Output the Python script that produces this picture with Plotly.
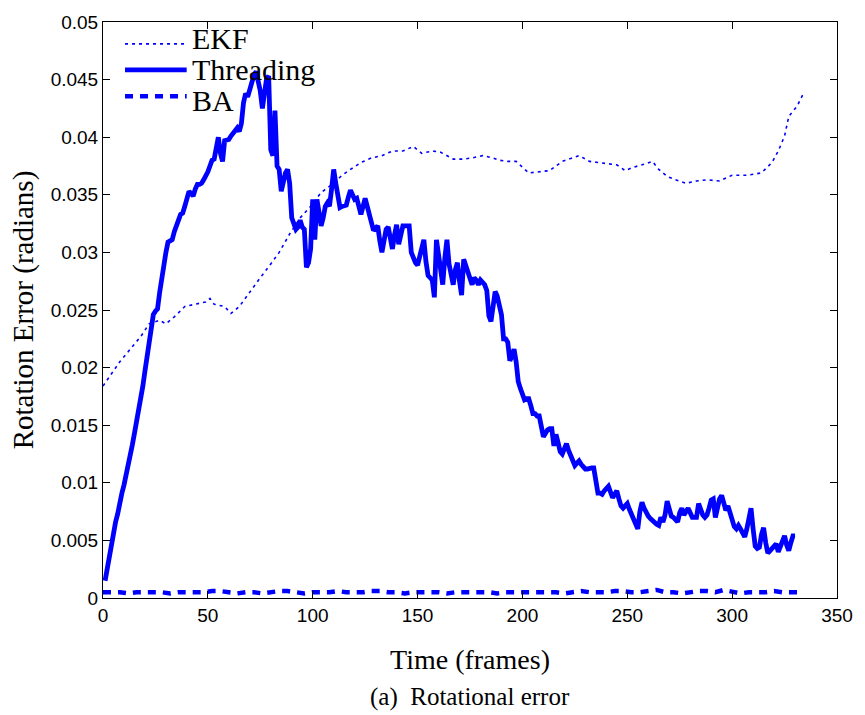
import plotly.graph_objects as go

# ---------------- data ----------------
series_names = ["EKF", "Threading", "BA"]

ekf_frames = [0, 3, 8, 13, 18, 22, 27, 30, 34, 39, 44, 49, 51, 53, 58, 61, 65, 70, 75, 80,
              84, 89, 94, 99, 104, 110, 114, 118, 123, 128, 133, 138, 143, 148, 152, 157, 161,
              167, 172, 176, 181, 186, 189, 193, 197, 203, 208, 213, 219, 224, 227, 232, 237,
              241, 245, 249, 253, 257, 262, 265, 269, 273, 278, 283, 288, 294, 300, 307, 314,
              319, 322, 325, 327, 331, 334]
ekf_values = [0.0184, 0.0192, 0.0205, 0.0216, 0.0227, 0.0238, 0.0241, 0.0238, 0.0244, 0.0253,
              0.0255, 0.0257, 0.0260, 0.0255, 0.0253, 0.0247, 0.0253, 0.0266, 0.0278, 0.0290,
              0.0300, 0.0316, 0.0330, 0.0340, 0.0352, 0.0360, 0.0367, 0.0372, 0.0378, 0.0382,
              0.0384, 0.0388, 0.0388, 0.0392, 0.0386, 0.0388, 0.0387, 0.0381, 0.0381, 0.0382,
              0.0384, 0.0382, 0.0380, 0.0379, 0.0379, 0.0369, 0.0370, 0.0371, 0.0379, 0.0382,
              0.0384, 0.0379, 0.0378, 0.0377, 0.0376, 0.0371, 0.0374, 0.0376, 0.0379, 0.0372,
              0.0366, 0.0363, 0.0360, 0.0362, 0.0363, 0.0362, 0.0367, 0.0367, 0.0369, 0.0378,
              0.0388, 0.0401, 0.0418, 0.0427, 0.0438]

thr_frames = list(range(1, 331))
thr_values = [
    0.0015, 0.0026, 0.0038, 0.0048, 0.0057, 0.0066, 0.0073, 0.0084, 0.0091, 0.0098,
    0.0106, 0.0113, 0.0121, 0.0133, 0.0143, 0.0152, 0.0163, 0.0174, 0.0184, 0.0197,
    0.0208, 0.0222, 0.0235, 0.0246, 0.0249, 0.0251, 0.0265, 0.0278, 0.0287, 0.0300,
    0.0309, 0.0310, 0.0311, 0.0318, 0.0322, 0.0328, 0.0333, 0.0334, 0.0340, 0.0346,
    0.0353, 0.0351, 0.0349, 0.0355, 0.0359, 0.0359, 0.0360, 0.0363, 0.0366, 0.0370,
    0.0375, 0.0380, 0.0381, 0.0390, 0.0400, 0.0386, 0.0379, 0.0397, 0.0397, 0.0398,
    0.0401, 0.0403, 0.0406, 0.0408, 0.0405, 0.0412, 0.0430, 0.0438, 0.0435, 0.0442,
    0.0451, 0.0454, 0.0457, 0.0450, 0.0440, 0.0425, 0.0440, 0.0451, 0.0453, 0.0389,
    0.0384, 0.0423, 0.0375, 0.0372, 0.0353, 0.0362, 0.0369, 0.0372, 0.0360, 0.0330,
    0.0323, 0.0320, 0.0322, 0.0328, 0.0322, 0.0320, 0.0287, 0.0291, 0.0303, 0.0346,
    0.0311, 0.0346, 0.0335, 0.0323, 0.0330, 0.0340, 0.0343, 0.0340, 0.0355, 0.0372,
    0.0360, 0.0350, 0.0339, 0.0340, 0.0341, 0.0341, 0.0348, 0.0354, 0.0350, 0.0346,
    0.0347, 0.0340, 0.0333, 0.0340, 0.0347, 0.0340, 0.0334, 0.0325, 0.0319, 0.0321,
    0.0323, 0.0310, 0.0300, 0.0310, 0.0320, 0.0322, 0.0310, 0.0303, 0.0315, 0.0324,
    0.0307, 0.0315, 0.0323, 0.0323, 0.0323, 0.0323, 0.0300, 0.0294, 0.0291, 0.0289,
    0.0298, 0.0305, 0.0311, 0.0292, 0.0280, 0.0278, 0.0276, 0.0261, 0.0311, 0.0298,
    0.0287, 0.0272, 0.0295, 0.0311, 0.0290, 0.0278, 0.0272, 0.0285, 0.0291, 0.0275,
    0.0263, 0.0294, 0.0288, 0.0283, 0.0276, 0.0272, 0.0278, 0.0276, 0.0272, 0.0276,
    0.0274, 0.0272, 0.0267, 0.0245, 0.0240, 0.0255, 0.0266, 0.0262, 0.0255, 0.0246,
    0.0225, 0.0225, 0.0222, 0.0206, 0.0210, 0.0216, 0.0205, 0.0188, 0.0182, 0.0177,
    0.0172, 0.0173, 0.0173, 0.0167, 0.0160, 0.0160, 0.0158, 0.0158, 0.0150, 0.0140,
    0.0143, 0.0146, 0.0147, 0.0147, 0.0132, 0.0142, 0.0135, 0.0127, 0.0125, 0.0130,
    0.0134, 0.0128, 0.0123, 0.0119, 0.0115, 0.0117, 0.0119, 0.0116, 0.0114, 0.0112,
    0.0112, 0.0113, 0.0113, 0.0113, 0.0100, 0.0091, 0.0091, 0.0090, 0.0093, 0.0095,
    0.0097, 0.0092, 0.0087, 0.0090, 0.0093, 0.0086, 0.0080, 0.0078, 0.0080, 0.0082,
    0.0077, 0.0072, 0.0067, 0.0063, 0.0060, 0.0075, 0.0083, 0.0078, 0.0073, 0.0071,
    0.0069, 0.0067, 0.0065, 0.0064, 0.0063, 0.0070, 0.0066, 0.0072, 0.0084, 0.0076,
    0.0071, 0.0070, 0.0068, 0.0066, 0.0074, 0.0078, 0.0072, 0.0075, 0.0078, 0.0074,
    0.0070, 0.0070, 0.0070, 0.0082, 0.0076, 0.0072, 0.0070, 0.0072, 0.0078, 0.0085,
    0.0086, 0.0070, 0.0078, 0.0086, 0.0089, 0.0082, 0.0076, 0.0080, 0.0073, 0.0067,
    0.0062, 0.0060, 0.0063, 0.0060, 0.0056, 0.0053, 0.0060, 0.0070, 0.0078, 0.0060,
    0.0045, 0.0043, 0.0044, 0.0055, 0.0061, 0.0048, 0.0039, 0.0041, 0.0043, 0.0045,
    0.0047, 0.0040, 0.0044, 0.0049, 0.0054, 0.0046, 0.0041, 0.0048, 0.0054, 0.0054,
]

ba_frames = list(range(0, 333, 4))
ba_values = [
    0.0005, 0.0005, 0.0005, 0.0004, 0.0005, 0.0005, 0.0005, 0.0005, 0.0004, 0.0005, 0.0005, 0.0005,
    0.0005, 0.0006, 0.0006, 0.0005, 0.0004, 0.0005, 0.0005, 0.0004, 0.0005, 0.0006, 0.0006, 0.0005,
    0.0004, 0.0005, 0.0005, 0.0005, 0.0006, 0.0005, 0.0005, 0.0005, 0.0006, 0.0006, 0.0005, 0.0005,
    0.0004, 0.0005, 0.0005, 0.0005, 0.0005, 0.0004, 0.0005, 0.0005, 0.0005, 0.0005, 0.0005, 0.0004,
    0.0005, 0.0005, 0.0005, 0.0005, 0.0005, 0.0005, 0.0005, 0.0004, 0.0005, 0.0006, 0.0005, 0.0005,
    0.0005, 0.0006, 0.0006, 0.0005, 0.0005, 0.0006, 0.0007, 0.0005, 0.0005, 0.0004, 0.0005, 0.0006,
    0.0006, 0.0005, 0.0007, 0.0005, 0.0004, 0.0005, 0.0005, 0.0005, 0.0006, 0.0005, 0.0005, 0.0005,
]

x_ticks = [0, 50, 100, 150, 200, 250, 300, 350]
y_ticks = [0, 0.005, 0.01, 0.015, 0.02, 0.025, 0.03, 0.035, 0.04, 0.045, 0.05]
y_tick_text = ["0", "0.005", "0.01", "0.015", "0.02", "0.025", "0.03", "0.035", "0.04", "0.045", "0.05"]

x_title = "Time (frames)"
y_title = "Rotation Error (radians)"
caption = "(a)  Rotational error"

# ---------------- styles ----------------
BLUE = "#0000ff"
SERIF = "Liberation Serif, Times New Roman, serif"
SANS = "Liberation Sans, Arial, sans-serif"
styles = {
    "EKF": dict(width=1.6, dash="3px,4px"),
    "Threading": dict(width=4.8, dash="solid"),
    "BA": dict(width=4.5, dash="8px,7px"),
}

fig = go.Figure()
for name, xs, ys in [("EKF", ekf_frames, ekf_values),
                     ("Threading", thr_frames, thr_values),
                     ("BA", ba_frames, ba_values)]:
    fig.add_trace(go.Scatter(x=xs, y=ys, mode="lines", name=name,
                             line=dict(color=BLUE, **styles[name]), showlegend=False))

# manual legend (keys + labels) in paper coordinates
key_y = [0.962, 0.917, 0.871]
label_y = [0.971, 0.918, 0.863]
shapes = []
annotations = []
for name, ky, ty in zip(series_names, key_y, label_y):
    st = styles[name]
    shapes.append(dict(type="line", xref="paper", yref="paper", x0=0.030, x1=0.114,
                       y0=ky, y1=ky, line=dict(color=BLUE, width=st["width"], dash=st["dash"])))
    annotations.append(dict(text=name, xref="paper", yref="paper", x=0.118, y=ty,
                            xanchor="left", yanchor="middle", showarrow=False,
                            font=dict(family=SERIF, size=30, color="black")))

annotations.append(dict(text=caption, xref="paper", yref="paper", x=0.5, y=-0.172,
                        xanchor="center", yanchor="middle", showarrow=False,
                        font=dict(family=SERIF, size=25, color="black")))

fig.update_layout(
    width=865, height=715,
    margin=dict(l=103, r=27, t=18, b=117),
    plot_bgcolor="white", paper_bgcolor="white",
    shapes=shapes, annotations=annotations,
    xaxis=dict(range=[0, 350], tickvals=x_ticks, ticks="inside", ticklen=7, tickcolor="black",
               showline=True, linecolor="black", linewidth=1, mirror="ticks",
               showgrid=False, zeroline=False,
               tickfont=dict(family=SANS, size=19, color="black"),
               title=dict(text=x_title, font=dict(family=SERIF, size=28, color="black"), standoff=24)),
    yaxis=dict(range=[0, 0.05], tickvals=y_ticks, ticktext=y_tick_text, ticks="inside", ticklen=7,
               tickcolor="black", showline=True, linecolor="black", linewidth=1, mirror="ticks",
               showgrid=False, zeroline=False,
               tickfont=dict(family=SANS, size=19, color="black"),
               title=dict(text=y_title, font=dict(family=SERIF, size=29, color="black"), standoff=8)),
)

fig.write_html("out.html")
